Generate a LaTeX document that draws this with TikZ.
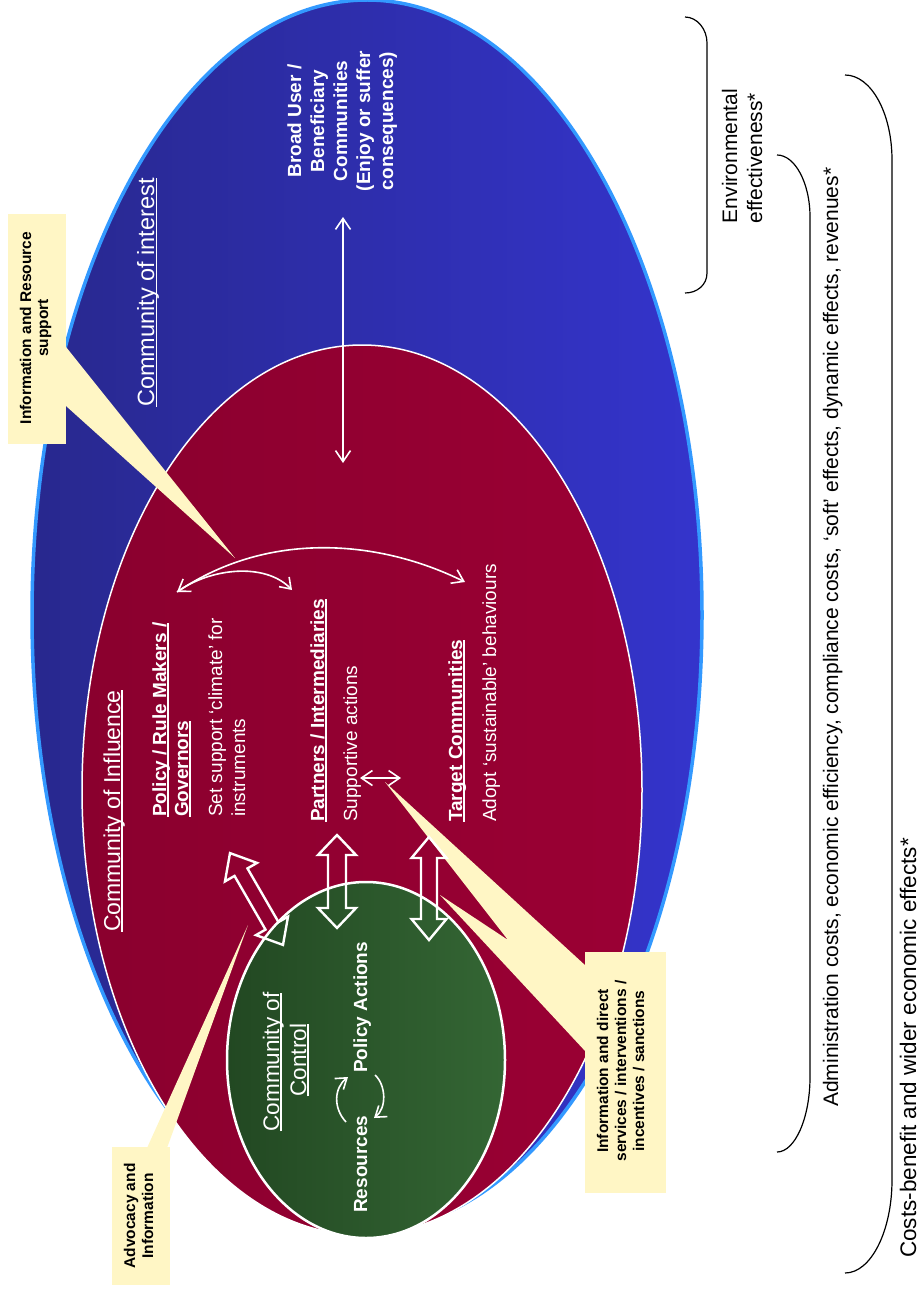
\documentclass[tikz,border=0pt]{standalone}
\usepackage{fontspec}
\setmainfont{Liberation Sans}
\usetikzlibrary{arrows.meta}
\definecolor{navyL}{RGB}{40,40,142}
\definecolor{navyR}{RGB}{52,52,204}
\definecolor{rimblue}{RGB}{51,153,255}
\definecolor{wineL}{RGB}{138,0,46}
\definecolor{wineR}{RGB}{155,0,52}
\definecolor{leafL}{RGB}{34,72,34}
\definecolor{leafR}{RGB}{52,102,52}
\definecolor{notefill}{RGB}{255,246,197}

% underline whose rule scales with the current font size
\newcommand\ulin[1]{\setbox0\hbox{#1}\rlap{\rule[-0.14em]{\wd0}{0.075em}}\box0}
\newcommand\fsz[1]{\fontsize{#1}{#1}\selectfont}

% double-headed block arrow: centre x, centre y, angle, half length, half shaft, half head, head length
\newcommand\blockarrow[7]{%
  \begin{scope}[shift={(#1,#2)},rotate=#3]
    \draw[blockline] (-#4,0) -- (-#4+#7,#6) -- (-#4+#7,#5) -- (#4-#7,#5) -- (#4-#7,#6) -- (#4,0)
      -- (#4-#7,-#6) -- (#4-#7,-#5) -- (-#4+#7,-#5) -- (-#4+#7,-#6) -- cycle;
  \end{scope}}

\begin{document}
\begin{tikzpicture}[x=1pt,y=-1pt,
  wlbl/.style={rotate=90,inner sep=0pt,anchor=base west,text=white},
  clbl/.style={rotate=90,inner sep=0pt,anchor=base},
  thinarrow/.style={draw=white,line width=1.6pt,{Straight Barb[length=11pt,width=15pt]}-{Straight Barb[length=11pt,width=15pt]}},
  onearrow/.style={draw=white,line width=1.6pt,-{Straight Barb[length=10pt,width=14pt]}},
  blockline/.style={draw=white,line width=2.4pt,line join=miter},
  bracketline/.style={draw=black,line width=1.2pt},
  bigtxt/.style={font=\fsz{23.5}},
  bodytxt/.style={font=\fsz{19}},
  boldtxt/.style={font=\fsz{19}\bfseries},
  notetxt/.style={font=\fsz{15.5}\bfseries,text=black},
  sidetxt/.style={font=\fsz{21},text=black},
]
\useasboundingbox (0,0) rectangle (921,1292);

% community of interest
\shade[left color=navyL,right color=navyR] (367,615) ellipse [x radius=335pt,y radius=615pt];
\draw[rimblue,line width=3.5pt] (367,615) ellipse [x radius=335pt,y radius=615pt];
% community of influence
\shade[left color=wineL,right color=wineR] (362,790) ellipse [x radius=280pt,y radius=445pt];
\draw[white,line width=1.5pt] (362,790) ellipse [x radius=280pt,y radius=445pt];
% community of control
\shade[left color=leafL,right color=leafR] (366,1060) ellipse [x radius=139pt,y radius=178pt];
\draw[white,line width=2.5pt] (366,1060) ellipse [x radius=139pt,y radius=178pt];

% call-outs
\fill[notefill] (8,214) rectangle (66,444);
\fill[notefill] (66,347) -- (235,558) -- (66,406) -- cycle;
\fill[notefill] (112,1147) rectangle (170,1285);
\fill[notefill] (147,1148) -- (248,925) -- (167,1148) -- cycle;
\fill[notefill] (585,952) rectangle (666,1193);
\fill[notefill] (586,966) -- (385,782) -- (508,940) -- (440,895) -- (586,1052) -- cycle;

% block arrows between control and influence
\blockarrow{256.5}{899}{120}{53}{7.5}{18.5}{22}
\blockarrow{337}{881.5}{90}{46.5}{9}{19}{20}
\blockarrow{429}{888.5}{90}{51.5}{8}{17.5}{21}

% thin arrows
\coordinate (broadTip) at (343,217);
\coordinate (influenceTip) at (343,463);
\draw[thinarrow] (broadTip) -- (influenceTip);
\coordinate (rulersTip) at (177,592);
\coordinate (targetTip) at (465,582);
\coordinate (partnersTip) at (292,590);
\draw[thinarrow] (rulersTip) .. controls (270,530) and (380,540) .. (targetTip);
\draw[onearrow] (rulersTip) .. controls (210,568) and (265,562) .. (partnersTip);
\coordinate (supL) at (360,778);
\coordinate (supR) at (401,778);
\draw[thinarrow] (supL) -- (supR);
\coordinate (cycA1) at (346,1122);
\coordinate (cycA2) at (348,1077);
\coordinate (cycB1) at (375,1075);
\coordinate (cycB2) at (374,1118);
\draw[onearrow] (cycA1) .. controls (333,1108) and (334,1088) .. (cycA2);
\draw[onearrow] (cycB1) .. controls (386,1085) and (387,1108) .. (cycB2);

% labels inside the ellipses
\node[wlbl,bigtxt] (interestLbl) at (154,407) {\ulin{Community of interest}};
\node[wlbl,font=\fsz{23}] (influenceLbl) at (120,932) {\ulin{Community of Influence}};
\node[wlbl,boldtxt] (rulers1) at (166,817) {\ulin{Policy / Rule Makers /}};
\node[wlbl,boldtxt] (rulers2) at (188,817) {\ulin{Governors}};
\node[wlbl,bodytxt] (rulersTxt1) at (222,817) {Set support ‘climate’ for};
\node[wlbl,bodytxt] (rulersTxt2) at (245,817) {instruments};
\node[wlbl,boldtxt] (partnersLbl) at (324,822) {\ulin{Partners / Intermediaries}};
\node[wlbl,bodytxt] (partnersTxt) at (357,822) {Supportive actions};
\node[wlbl,boldtxt] (targetLbl) at (462,822) {\ulin{Target Communities}};
\node[wlbl,bodytxt] (targetTxt) at (496,822) {Adopt ‘sustainable’ behaviours};

\node[clbl,boldtxt,text=white] (broad1) at (301,121) {Broad User /};
\node[clbl,boldtxt,text=white] (broad2) at (324,121) {Beneficiary};
\node[clbl,boldtxt,text=white] (broad3) at (347,121) {Communities};
\node[clbl,boldtxt,text=white] (broad4) at (370,121) {(Enjoy or suffer};
\node[clbl,boldtxt,text=white] (broad5) at (393,121) {consequences)};

\node[clbl,font=\fsz{22.5},text=white] (control1) at (279,1062) {\ulin{Community of}};
\node[clbl,font=\fsz{22.5},text=white] (control2) at (306,1060) {\ulin{Control}};
\node[wlbl,boldtxt] (policyActions) at (367,1073) {Policy Actions};
\node[wlbl,boldtxt] (resources) at (367,1213) {Resources};

% call-out texts
\node[clbl,notetxt] (note1a) at (31,328) {Information and Resource};
\node[clbl,notetxt] (note1b) at (48,328) {support};
\node[clbl,notetxt] (note2a) at (135,1216) {Advocacy and};
\node[clbl,notetxt] (note2b) at (153,1216) {Information};
\node[clbl,notetxt] (note3a) at (608,1071) {Information and direct};
\node[clbl,notetxt] (note3b) at (626,1071) {services / interventions /};
\node[clbl,notetxt] (note3c) at (644,1071) {incentives / sanctions};

% evaluation brackets
\draw[bracketline] (685,17) .. controls (697,17) and (707,29) .. (707,43) -- (707,273) .. controls (707,285) and (697,293) .. (685,293);
\draw[bracketline] (777,155) .. controls (795,155) and (810,183) .. (810,217) -- (810,1077) .. controls (810,1118) and (795,1152) .. (777,1152);
\draw[bracketline] (845,75) .. controls (871,75) and (892,113) .. (892,160) -- (892,1180) .. controls (892,1231) and (871,1273) .. (845,1273);

\node[clbl,sidetxt] (env1) at (737,156) {Environmental};
\node[clbl,sidetxt] (env2) at (762,158) {effectiveness*};
\node[wlbl,sidetxt] (adminTxt) at (838,1107) {Administration costs, economic efficiency, compliance costs, ‘soft’ effects, dynamic effects, revenues*};
\node[clbl,sidetxt,font=\fsz{22.5}] (costTxt) at (916,1048) {Costs-benefit and wider economic effects*};
\end{tikzpicture}
\end{document}
